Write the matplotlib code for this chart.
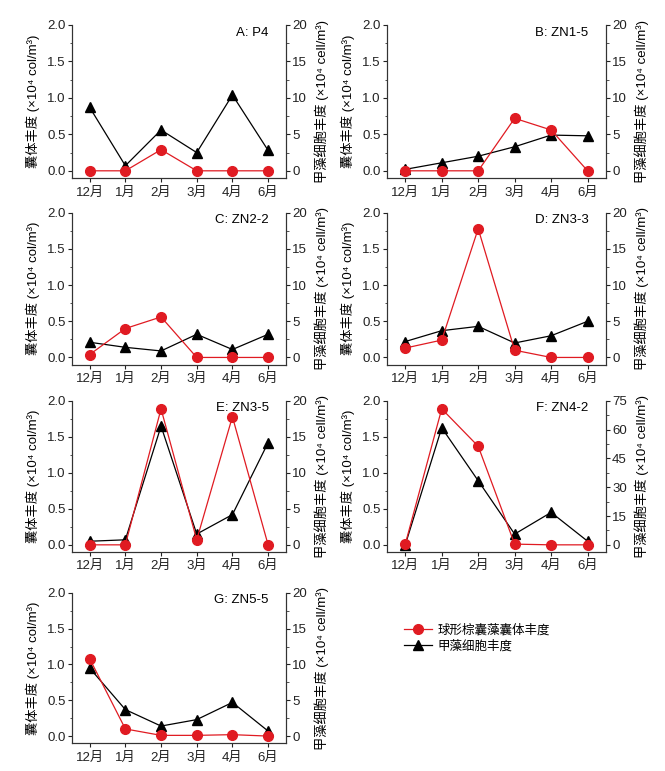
import numpy as np
import matplotlib.pyplot as plt
from matplotlib.lines import Line2D
from matplotlib.ticker import MultipleLocator

plt.rcParams['font.family'] = ['Liberation Sans', 'Noto Sans CJK SC', 'DejaVu Sans']
plt.rcParams['axes.unicode_minus'] = False

months = ['12月', '1月', '2月', '3月', '4月', '6月']
titles = ['A: P4', 'B: ZN1-5', 'C: ZN2-2', 'D: ZN3-3', 'E: ZN3-5', 'F: ZN4-2', 'G: ZN5-5']

# 囊体丰度 (x10^4 col/m3)
cyst_A = [0, 0, 0.29, 0, 0, 0]
cyst_B = [0, 0, 0, 0.72, 0.56, 0]
cyst_C = [0.04, 0.40, 0.56, 0, 0, 0]
cyst_D = [0.13, 0.24, 1.78, 0.10, 0, 0]
cyst_E = [0.0, 0.0, 1.89, 0.07, 1.78, 0.0]
cyst_F = [0.01, 1.89, 1.37, 0.01, 0, 0]
cyst_G = [1.08, 0.10, 0.01, 0.01, 0.02, 0.0]

# 甲藻细胞丰度 (x10^4 cell/m3)
dino_A = [8.7, 0.7, 5.6, 2.5, 10.4, 2.8]
dino_B = [0.2, 1.1, 2.0, 3.3, 4.9, 4.8]
dino_C = [2.1, 1.4, 0.9, 3.2, 1.1, 3.2]
dino_D = [2.2, 3.7, 4.3, 2.0, 3.0, 5.0]
dino_E = [0.5, 0.7, 16.5, 1.5, 4.2, 14.2]
dino_F = [0.0, 61.0, 33.4, 5.6, 16.9, 1.9]
dino_G = [9.5, 3.7, 1.4, 2.3, 4.7, 0.7]

cysts = [cyst_A, cyst_B, cyst_C, cyst_D, cyst_E, cyst_F, cyst_G]
dinos = [dino_A, dino_B, dino_C, dino_D, dino_E, dino_F, dino_G]
right_max = [20, 20, 20, 20, 20, 75, 20]

red = '#e01b22'
fs = 9.5

fig = plt.figure(figsize=(6.65, 7.71), dpi=100)

rows = [(0.769, 0.9676), (0.527, 0.724), (0.284, 0.480), (0.036, 0.231)]
cols = [(0.108, 0.430), (0.582, 0.911)]

x = np.arange(len(months))
for i in range(7):
    r, c = divmod(i, 2)
    x0, x1 = cols[c]
    y0, y1 = rows[r]
    ax = fig.add_axes([x0, y0, x1 - x0, y1 - y0])
    ax2 = ax.twinx()

    ax2.plot(x, dinos[i], color='black', lw=0.9, marker='^', ms=7.5, zorder=2)
    ax.plot(x, cysts[i], color=red, lw=0.9, marker='o', ms=7, mec=red, mfc=red, zorder=3)
    ax.set_zorder(ax2.get_zorder() + 1)
    ax.patch.set_visible(False)

    ax.set_xlim(-0.5, 5.5)
    ax.set_ylim(-0.1, 2.0)
    ax.set_yticks([0, 0.5, 1.0, 1.5, 2.0])
    ax.set_yticklabels(['0.0', '0.5', '1.0', '1.5', '2.0'])
    ax.yaxis.set_minor_locator(MultipleLocator(0.25))
    rm = right_max[i]
    ax2.set_ylim(-rm * 0.05, rm)
    if rm == 75:
        ax2.set_yticks([0, 15, 30, 45, 60, 75])
        ax2.yaxis.set_minor_locator(MultipleLocator(7.5))
    else:
        ax2.set_yticks([0, 5, 10, 15, 20])
        ax2.yaxis.set_minor_locator(MultipleLocator(2.5))
    ax.set_xticks(x)
    ax.set_xticklabels(months)

    for a in (ax, ax2):
        a.spines['top'].set_visible(False)
        for s in a.spines.values():
            s.set_color('#333333')
            s.set_linewidth(0.8)
        a.tick_params(direction='out', length=3, width=0.8, pad=1.5, labelsize=fs,
                      colors='#222222')
        a.tick_params(which='minor', direction='out', length=1.8, width=0.6, colors='#333333')
    ax.tick_params(axis='x', pad=3)

    ax.set_ylabel('囊体丰度 (×10⁴ col/m³)', fontsize=fs, labelpad=5)
    ax2.set_ylabel('甲藻细胞丰度 (×10⁴ cell/m³)', fontsize=fs, rotation=90, labelpad=5)
    ax.text(0.92, 0.95, titles[i], transform=ax.transAxes, ha='right', va='center',
            fontsize=fs, zorder=10)

handles = [
    Line2D([], [], color=red, lw=0.9, marker='o', ms=7, mec=red, mfc=red),
    Line2D([], [], color='black', lw=0.9, marker='^', ms=7.5),
]
fig.legend(handles, ['球形棕囊藻囊体丰度', '甲藻细胞丰度'], loc='upper left',
           bbox_to_anchor=(0.59, 0.205), frameon=False, fontsize=9,
           handlelength=2.3, handletextpad=0.4, labelspacing=0.3)

fig.savefig('out.png', dpi=100)
